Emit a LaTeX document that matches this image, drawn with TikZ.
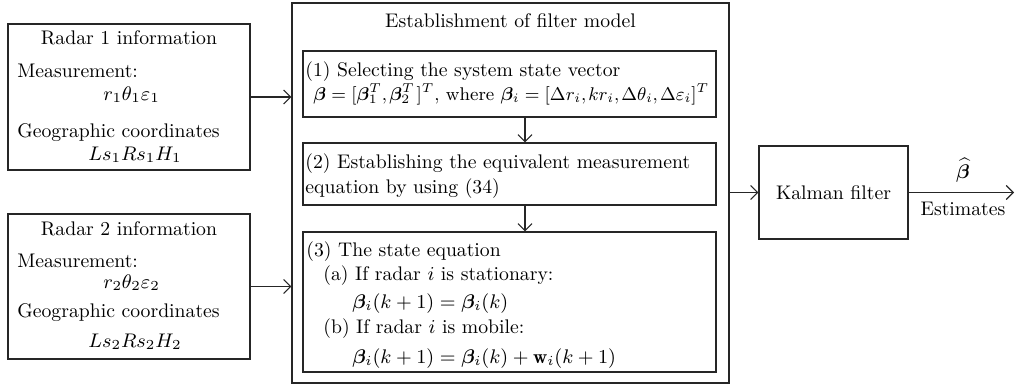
\RequirePackage{fix-cm}
\documentclass[tikz,border=0pt]{standalone}
\usepackage{amsmath}
\usepackage{bm}
\usepackage{fontspec}
\usetikzlibrary{arrows.meta}
\begin{document}
\begin{tikzpicture}[x=0.5pt,y=-0.5pt,
  every node/.style={font=\fontsize{9.85}{12}\selectfont, inner sep=0pt},
  panel/.style={draw=black!85, line width=0.6pt, rectangle, inner sep=0pt},
  txt/.style={anchor=base west},
  ctxt/.style={anchor=base},
  arr/.style={draw=black!85, line width=0.55pt, -{Straight Barb[length=3.5pt,width=7pt,line width=0.55pt]}}]
\useasboundingbox (0,0) rectangle (1015,385);

% Radar 1 input block
\node[panel, minimum width=121pt, minimum height=73pt] (r1) at (129,97) {};
\node[ctxt] (r1t) at (129,45) {Radar 1 information};
\node[txt] (r1m) at (17,77) {Measurement:};
\node[txt] (r1mv) at (103,100) {$r_1\theta_1\varepsilon_1$};
\node[txt] (r1g) at (17,137) {Geographic coordinates};
\node[txt] (r1gv) at (88,160) {$Ls_1Rs_1H_1$};

% Radar 2 input block
\node[panel, minimum width=121pt, minimum height=72.5pt] (r2) at (129,286.5) {};
\node[ctxt] (r2t) at (129,235) {Radar 2 information};
\node[txt] (r2m) at (17,267) {Measurement:};
\node[txt] (r2mv) at (103,288) {$r_2\theta_2\varepsilon_2$};
\node[txt] (r2g) at (17,317) {Geographic coordinates};
\node[txt] (r2gv) at (88,347) {$Ls_2Rs_2H_2$};

% Filter model block with its three steps
\node[panel, minimum width=218.5pt, minimum height=190pt] (fm) at (510.5,193) {};
\node[ctxt] (fmt) at (510.5,28) {Establishment of filter model};

\node[panel, minimum width=206.5pt, minimum height=33pt] (s1) at (509.5,84) {};
\node[txt] (s1a) at (305,76) {(1) Selecting the system state vector};
\node[txt, font=\fontsize{9.2}{12}\selectfont] (s1b) at (313,100) {\thinmuskip=2mu$\bm{\beta}=[\bm{\beta}_1^T,\bm{\beta}_2^T\,]^T$, where $\bm{\beta}_i=[\Delta r_i,kr_i,\Delta\theta_i,\Delta\varepsilon_i]^T$};

\node[panel, minimum width=206.5pt, minimum height=31pt] (s2) at (509.5,174) {};
\node[txt] (s2a) at (305,168) {(2) Establishing the equivalent measurement};
\node[txt] (s2b) at (305,193) {equation by using (34)};

\node[panel, minimum width=206.5pt, minimum height=70pt] (s3) at (509.5,302) {};
\node[txt] (s3a) at (306,256) {(3) The state equation};
\node[txt] (s3b) at (323,280) {(a) If radar $i$ is stationary:};
\node[txt] (s3c) at (352,308) {$\bm{\beta}_i(k+1)=\bm{\beta}_i(k)$};
\node[txt] (s3d) at (323,333) {(b) If radar $i$ is mobile:};
\node[txt] (s3e) at (352,363) {$\bm{\beta}_i(k+1)=\bm{\beta}_i(k)+\mathbf{w}_i(k+1)$};

% Kalman filter and output
\node[panel, minimum width=74.5pt, minimum height=46.5pt] (kf) at (833.5,192.5) {Kalman filter};
\coordinate (out) at (1014,192.5);
\node[ctxt] (bh) at (963,178) {$\widehat{\bm{\beta}}$};
\node[ctxt] (est) at (963,215) {Estimates};

% Connectors
\draw[arr] (r1.east) -- (r1.east -| fm.west);
\draw[arr] (r2.east) -- (r2.east -| fm.west);
\draw[arr] ([xshift=7.75pt]s1.south) -- ([xshift=7.75pt]s2.north);
\draw[arr] ([xshift=7.75pt]s2.south) -- ([xshift=7.75pt]s3.north);
\draw[arr] (fm.east |- kf.west) -- (kf.west);
\draw[arr] (kf.east) -- (out);
\end{tikzpicture}
\end{document}
